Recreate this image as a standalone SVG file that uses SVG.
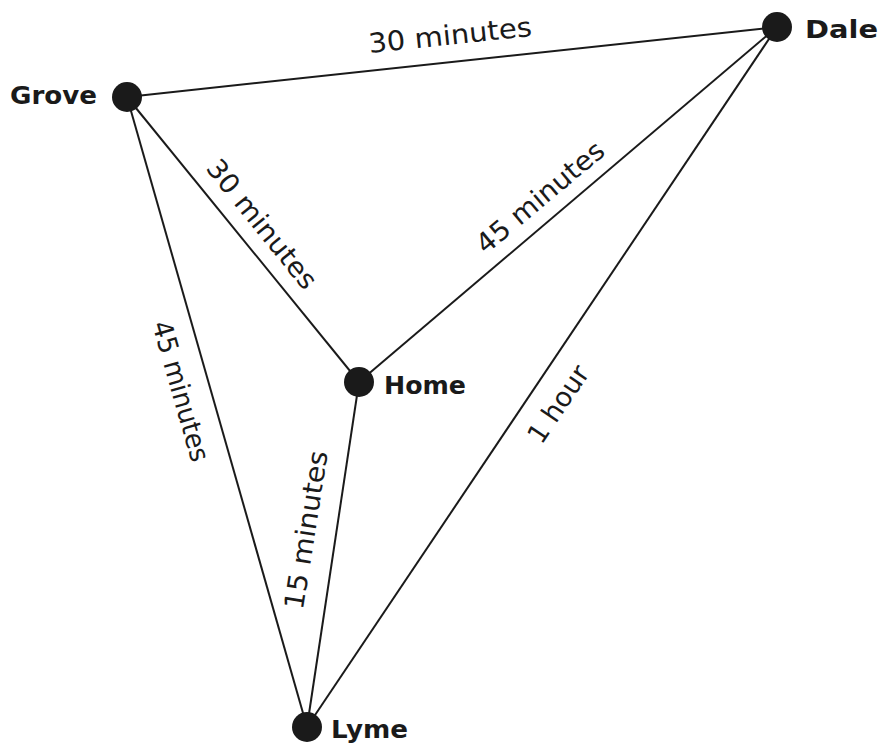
<svg xmlns="http://www.w3.org/2000/svg" width="881" height="744" viewBox="0 0 881 744">
<style>
.edge{stroke:#1a1a1a;stroke-width:2;fill:none}
.dot{fill:#1a1a1a}
.name{font-family:"Comic Sans MS","DejaVu Sans",sans-serif;font-weight:bold;font-size:25px;fill:#1a1a1a}
.lbl{font-family:"Comic Sans MS","DejaVu Sans",sans-serif;font-size:27px;fill:#1a1a1a;text-anchor:middle;dominant-baseline:central}
</style>
<rect width="881" height="744" fill="#ffffff"/>
<g id="connectors">
<line class="edge" x1="127" y1="97" x2="777" y2="27"/>
<line class="edge" x1="127" y1="97" x2="359" y2="382"/>
<line class="edge" x1="127" y1="97" x2="307" y2="727"/>
<line class="edge" x1="359" y1="382" x2="777" y2="27"/>
<line class="edge" x1="359" y1="382" x2="307" y2="727"/>
<line class="edge" x1="777" y1="27" x2="307" y2="727"/>
<text class="lbl" transform="translate(450,35) rotate(-6)" textLength="164" lengthAdjust="spacingAndGlyphs">30 minutes</text>
<text class="lbl" transform="translate(262,224) rotate(51)" textLength="158" lengthAdjust="spacingAndGlyphs">30 minutes</text>
<text class="lbl" transform="translate(540,197) rotate(-40)" textLength="158" lengthAdjust="spacingAndGlyphs">45 minutes</text>
<text class="lbl" transform="translate(181,391) rotate(74)" textLength="145" lengthAdjust="spacingAndGlyphs">45 minutes</text>
<text class="lbl" transform="translate(306,530) rotate(-81)" textLength="160" lengthAdjust="spacingAndGlyphs">15 minutes</text>
<text class="lbl" transform="translate(558,404) rotate(-56)">1 hour</text>
</g>
<g id="node-grove">
<circle class="dot" cx="127" cy="97" r="15"/>
<text class="name" x="10" y="104" textLength="87" lengthAdjust="spacingAndGlyphs">Grove</text>
</g>
<g id="node-dale">
<circle class="dot" cx="777" cy="27" r="15"/>
<text class="name" x="805" y="38" font-size="29" textLength="73" lengthAdjust="spacingAndGlyphs">Dale</text>
</g>
<g id="node-home">
<circle class="dot" cx="359" cy="382" r="15"/>
<text class="name" x="384" y="394" textLength="82" lengthAdjust="spacingAndGlyphs">Home</text>
</g>
<g id="node-lyme">
<circle class="dot" cx="307" cy="727" r="15"/>
<text class="name" x="331" y="738" textLength="77" lengthAdjust="spacingAndGlyphs">Lyme</text>
</g>
</svg>
